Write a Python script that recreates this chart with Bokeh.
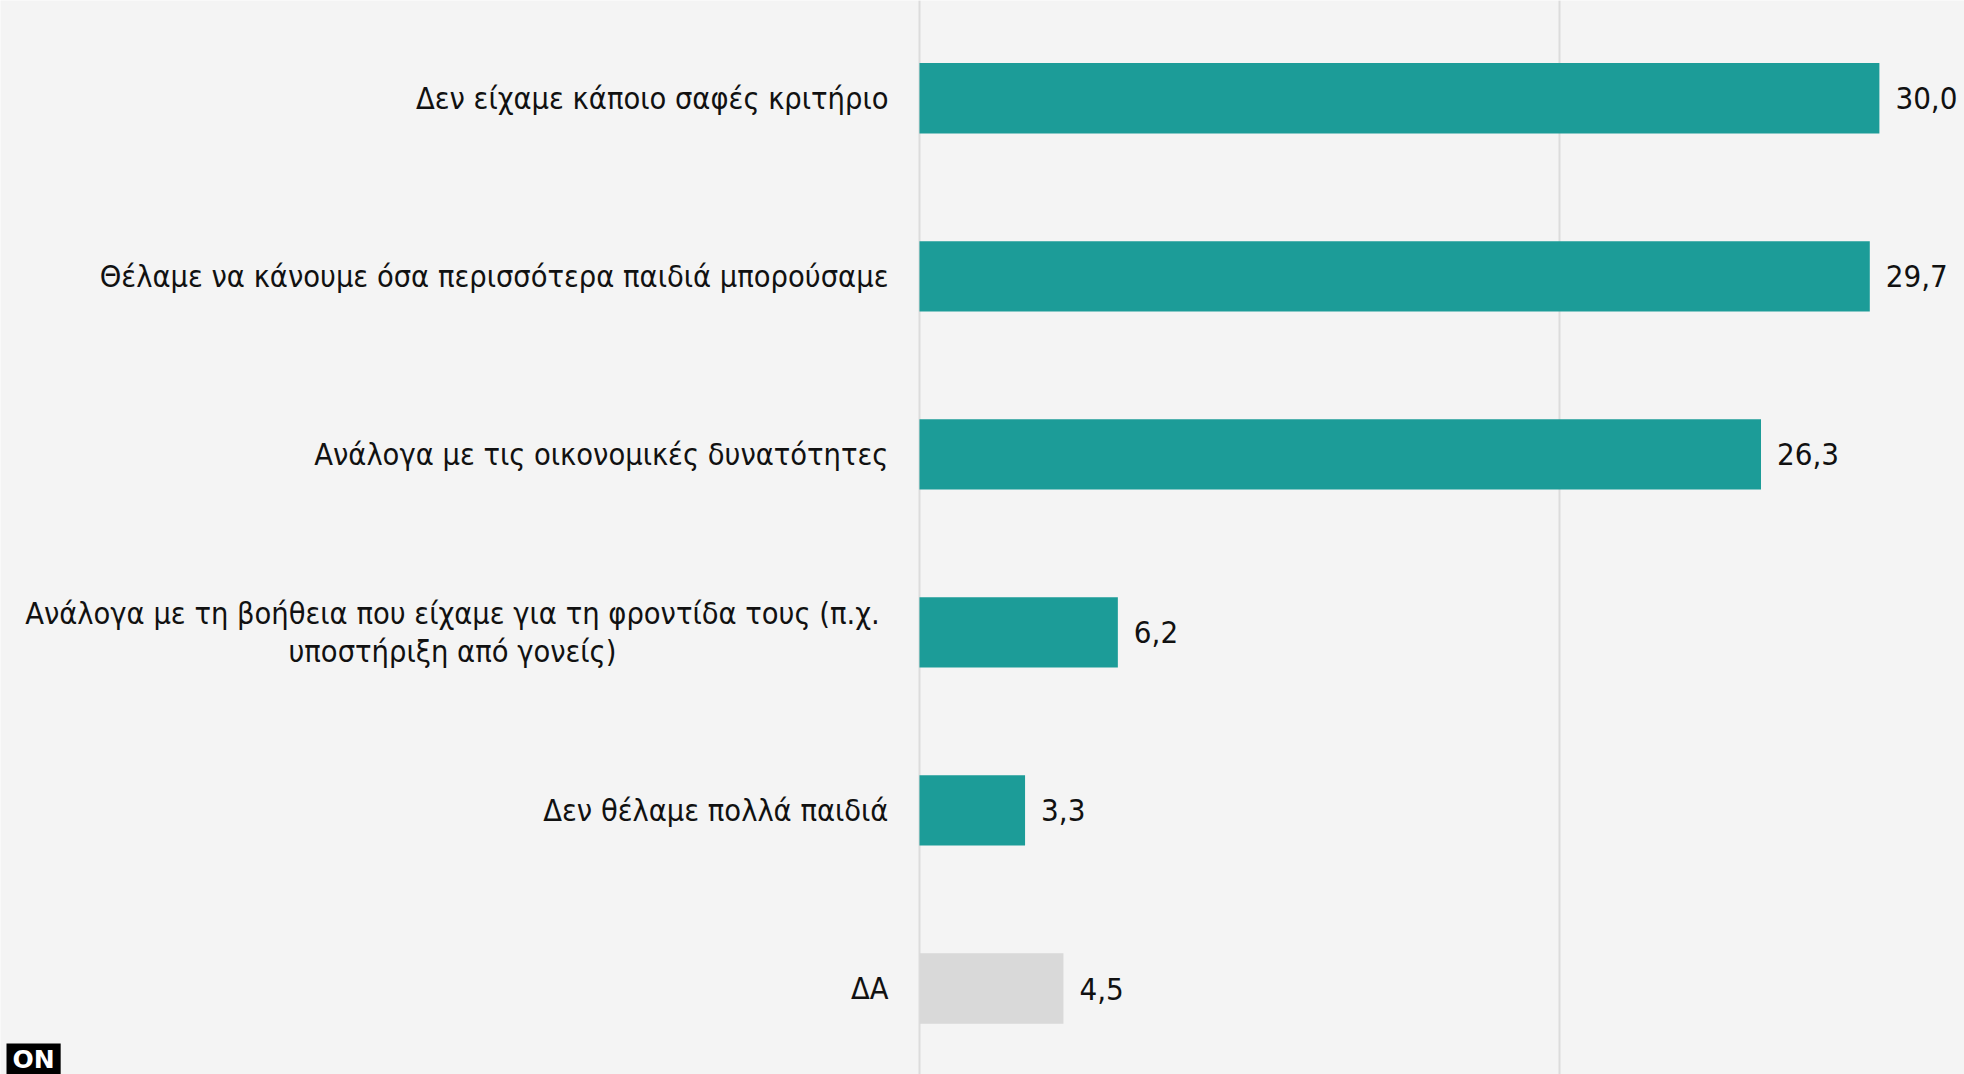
from bokeh.plotting import figure
from bokeh.models import ColumnDataSource, Range1d, Grid, FixedTicker, Label
from bokeh.core.properties import value
from bokeh.embed import file_html
from bokeh.resources import INLINE

categories = [
    "Δεν είχαμε κάποιο σαφές κριτήριο",
    "Θέλαμε να κάνουμε όσα περισσότερα παιδιά μπορούσαμε",
    "Ανάλογα με τις οικονομικές δυνατότητες",
    "Ανάλογα με τη βοήθεια που είχαμε για τη φροντίδα τους (π.χ.\nυποστήριξη από γονείς)",
    "Δεν θέλαμε πολλά παιδιά",
    "ΔΑ",
]
values = [30.0, 29.7, 26.3, 6.2, 3.3, 4.5]
value_labels = ["30,0", "29,7", "26,3", "6,2", "3,3", "4,5"]
bar_colors = ["#1c9c98", "#1c9c98", "#1c9c98", "#1c9c98", "#1c9c98", "#d9d9d9"]
label_align = ["right", "right", "right", "center", "right", "right"]
label_offset = [-31, -31, -31, -467, -31, -31]

FONT = "DejaVu Sans Condensed"

src = ColumnDataSource(dict(
    y=list(range(len(categories))),
    val=values,
    cat=categories,
    vlab=value_labels,
    color=bar_colors,
    align=label_align,
    xoff=label_offset,
))

p = figure(
    width=1964, height=1074,
    x_range=Range1d(-28.72, 32.66),
    y_range=Range1d(5.483, -0.549),
    x_axis_type=None, y_axis_type=None,
    output_backend="svg", toolbar_location=None,
    min_border=0,
)
p.background_fill_color = "#f4f4f4"
p.border_fill_color = "#f4f4f4"
p.outline_line_color = None

grid = Grid(dimension=0, ticker=FixedTicker(ticks=[0, 20]),
            grid_line_color="#dcdcdc", grid_line_width=2)
p.add_layout(grid)

p.hbar(y="y", left=0, right="val", height=0.395, fill_color="color",
       line_color=None, source=src)

p.text(x=0, y="y", text="cat", x_offset="xoff", text_align="align",
       text_baseline="middle", text_font=value(FONT), text_font_size="30.5px",
       text_color="#111111", text_line_height=1.07, source=src)

p.text(x="val", y="y", text="vlab", x_offset=16, text_align="left",
       text_baseline="middle", text_font=value(FONT), text_font_size="31px",
       text_color="#111111", source=src)

logo = Label(x=6, y=31, x_units="screen", y_units="screen", text="ON",
             text_baseline="top", text_font="DejaVu Sans",
             text_font_style="bold", text_font_size="25px", text_color="white",
             background_fill_color="black", padding=(6, 1))
p.add_layout(logo)

open("out.html", "w").write(file_html(p, INLINE))
